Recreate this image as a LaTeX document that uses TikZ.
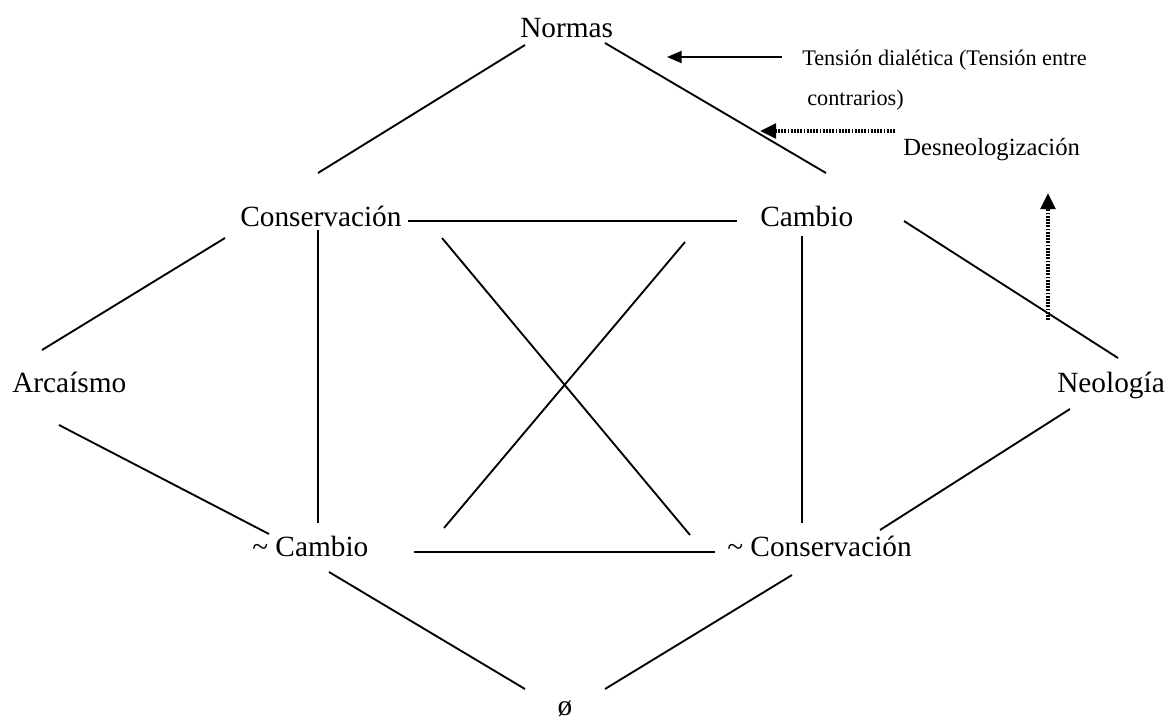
\documentclass[tikz,border=0pt]{standalone}
\usepackage{fontspec}
\setmainfont{Liberation Serif}
\usetikzlibrary{arrows.meta}
\begin{document}
\begin{tikzpicture}[x=0.75pt,y=-0.75pt,
  lbl/.style={anchor=base west, inner sep=0pt, font=\fontsize{22}{26}\selectfont},
  note/.style={anchor=base west, inner sep=0pt, font=\fontsize{16.7}{20}\selectfont},
  noteb/.style={anchor=base west, inner sep=0pt, font=\fontsize{18.5}{22}\selectfont},
  edge/.style={line width=1.4pt},
  solidarrow/.style={line width=1.4pt, -{Triangle[length=11pt,width=9pt]}},
  dotarrow/.style={line width=2.6pt, dash pattern=on 1.4pt off 1.0pt, -{Triangle[length=12pt,width=11pt]}}]
\useasboundingbox (0,0) rectangle (1168,726);
% text nodes
\node[lbl] (normas) at (520,37) {Normas};
\node[lbl] (cons) at (240,226) {Conservación};
\node[lbl] (cambio) at (760,226) {Cambio};
\node[lbl] (arc) at (12,392) {Arcaísmo};
\node[lbl] (neo) at (1057,392) {Neología};
\node[lbl] (ncambio) at (252,556) {\textasciitilde{} Cambio};
\node[lbl] (ncons) at (727,556) {\textasciitilde{} Conservación};
\node[lbl, anchor=base] (empty) at (565,715) {ø};
\node[note] (tension) at (802,65) {Tensión dialética (Tensión entre};
\node[note] (contr) at (807,105) {contrarios)};
\node[noteb] (desneo) at (903,155) {Desneologización};
% line end points
\coordinate (nL) at (525,45);   \coordinate (cT) at (318,173);
\coordinate (nR) at (605,43);   \coordinate (bT) at (826,173);
\coordinate (cH) at (408,221);  \coordinate (bH) at (737,221);
\coordinate (cA) at (225,238);  \coordinate (aT) at (42,350);
\coordinate (bN) at (904,221);  \coordinate (nT) at (1118,358);
\coordinate (aB) at (59,425);   \coordinate (ncT) at (269,534);
\coordinate (cV) at (318,230);  \coordinate (ncV) at (318,523);
\coordinate (bV) at (802,236);  \coordinate (nbV) at (802,523);
\coordinate (x1a) at (442,238); \coordinate (x1b) at (690,535);
\coordinate (x2a) at (685,242); \coordinate (x2b) at (444,528);
\coordinate (ncH) at (414,552); \coordinate (nbH) at (715,552);
\coordinate (nB) at (1070,409); \coordinate (nbT) at (880,530);
\coordinate (ncB) at (329,572); \coordinate (eL) at (525,689);
\coordinate (nbB) at (792,575); \coordinate (eR) at (605,689);
\coordinate (ta1) at (782,57);  \coordinate (ta2) at (667,57);
\coordinate (da1) at (895,131); \coordinate (da2) at (760,131);
\coordinate (va1) at (1048,320); \coordinate (va2) at (1048,193);
% connectors
\draw[edge] (nL) -- (cT);
\draw[edge] (nR) -- (bT);
\draw[edge] (cH) -- (bH);
\draw[edge] (cA) -- (aT);
\draw[edge] (bN) -- (nT);
\draw[edge] (aB) -- (ncT);
\draw[edge] (cV) -- (ncV);
\draw[edge] (bV) -- (nbV);
\draw[edge] (x1a) -- (x1b);
\draw[edge] (x2a) -- (x2b);
\draw[edge] (ncH) -- (nbH);
\draw[edge] (nB) -- (nbT);
\draw[edge] (ncB) -- (eL);
\draw[edge] (nbB) -- (eR);
\draw[solidarrow] (ta1) -- (ta2);
\draw[dotarrow] (da1) -- (da2);
\draw[dotarrow] (va1) -- (va2);
\end{tikzpicture}
\end{document}
